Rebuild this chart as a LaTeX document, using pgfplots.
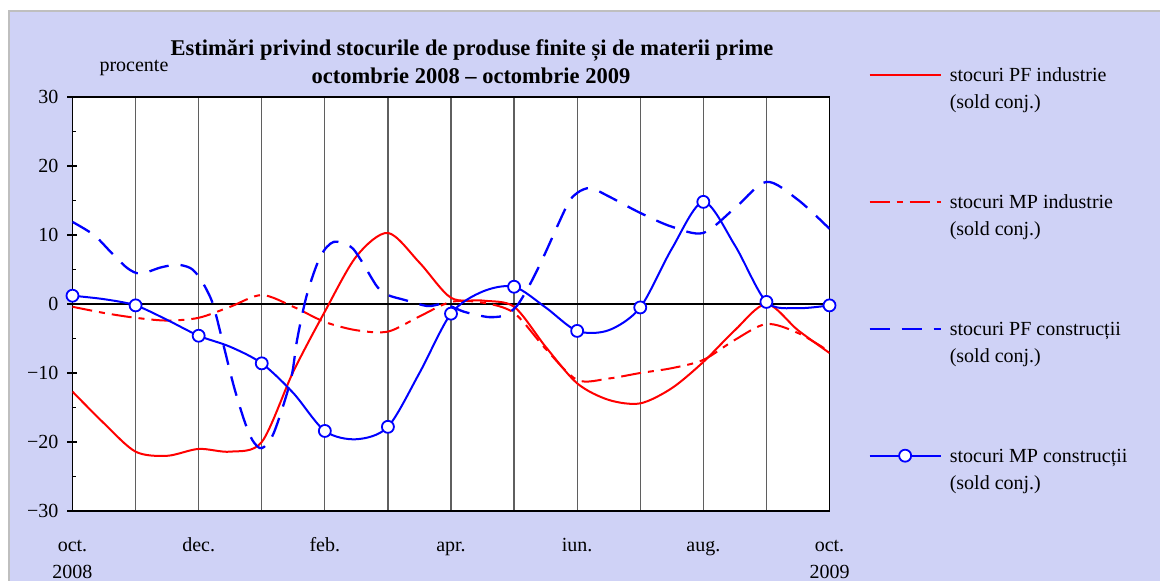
\documentclass[border=0pt]{standalone}
\usepackage{fontspec}
\setmainfont{Liberation Serif}
\usepackage{pgfplots}
\pgfplotsset{compat=1.18}
\definecolor{bgdots}{RGB}{207,210,246}
\definecolor{gridc}{RGB}{95,95,95}
\pgfplotsset{mpleg/.style={legend image code/.code={\draw[##1, mark repeat=2, mark phase=2] plot coordinates {(0pt,7pt) (35.5pt,7pt) (71pt,7pt)};}}}
\begin{document}
\begin{tikzpicture}
\path[use as bounding box] (0pt,0pt) rectangle (1160pt,581pt);
\fill[bgdots] (8pt,0pt) rectangle (1160pt,571pt);
\draw[gray!50, line width=2pt] (9pt,0pt) -- (9pt,570pt) -- (1160pt,570pt);
\node[font=\fontsize{22.5}{28}\selectfont\bfseries, anchor=base, inner sep=0pt] at (472pt,525pt) {Estimări privind stocurile de produse finite și de materii prime};
\node[font=\fontsize{22.5}{28}\selectfont\bfseries, anchor=base, inner sep=0pt] at (471pt,497pt) {octombrie 2008 – octombrie 2009};
\node[font=\fontsize{20}{24}\selectfont, anchor=base, inner sep=0pt] at (134pt,509pt) {procente};
\begin{axis}[
  at={(72.5pt,70pt)}, anchor=south west,
  width=757pt, height=414pt, scale only axis,
  xmin=0, xmax=12, ymin=-30, ymax=30,
  clip mode=individual,
  axis background/.style={fill=white},
  axis line style={black, line width=1.3pt},
  xtick={0,...,12},
  xticklabels={oct.,,dec.,,feb.,,apr.,,iun.,,aug.,,oct.},
  xmajorgrids,
  major grid style={gridc, line width=1.3pt},
  x tick style={draw=none},
  ytick={-30,-20,...,30},
  yticklabels={−30,−20,−10,0,10,20,30},
  minor ytick={-25,-15,...,25},
  y tick style={black, line width=1.2pt},
  tick align=center, major tick length=10pt, minor tick length=4pt,
  minor y tick style={xshift=2pt},
  tick pos=left,
  extra y ticks={0}, extra y tick labels={},
  extra y tick style={grid=major, major grid style={black, line width=1.2pt}},
  extra x ticks={0,12}, extra x tick labels={2008,2009},
  extra x tick style={grid=none, xticklabel style={yshift=-27pt}},
  ticklabel style={font=\fontsize{20}{24}\selectfont},
  xticklabel style={inner sep=0pt, text height=14pt, text depth=5pt, anchor=north, yshift=-21pt},
  yticklabel style={inner sep=0pt, text height=13.5pt, text depth=0pt, anchor=east, xshift=-9pt},
  legend style={at={(1.0515,1.0708)}, anchor=north west, draw=none, fill=none,
    inner sep=0pt, outer sep=0pt, row sep=8pt, column sep=8pt,
    font=\fontsize{20}{24}\selectfont,
    nodes={inner sep=0pt, text height=14pt, text depth=5pt, anchor=base west}},
  legend cell align=left,
  legend image code/.code={\draw[#1] (0pt,7pt) -- (71pt,7pt);},
]
\addplot[red, line width=2pt, smooth] coordinates {
(0,-12.7)(0.5,-17.3)(1,-21.4)(1.5,-22.0)(2,-21.0)(2.5,-21.4)(3,-20.0)(3.5,-9.8)(4,-1.1)(4.5,6.9)(5,10.3)(5.5,6.0)(6,0.9)(6.5,0.5)(7,-0.4)(7.5,-6.2)(8,-11.5)(8.5,-13.9)(9,-14.4)(9.5,-12.2)(10,-8.4)(10.5,-3.8)(11,0)(11.5,-3.8)(12,-7.1)};
\addlegendentry{stocuri PF industrie}
\addlegendimage{empty legend}
\addlegendentry[text depth=78pt]{(sold conj.)}
\addplot[red, line width=2pt, smooth, dash pattern=on 20pt off 7pt on 6pt off 7pt] coordinates {
(0,-0.4)(0.5,-1.3)(1,-2.0)(1.5,-2.4)(2,-2.0)(2.5,-0.4)(3,1.3)(3.5,-0.4)(4,-2.6)(4.5,-3.8)(5,-4.0)(5.5,-1.8)(6,0.3)(6.5,0.2)(7,-1.3)(7.5,-6.5)(8,-11.0)(8.5,-10.8)(9,-10.0)(9.5,-9.3)(10,-8.1)(10.5,-5.2)(11,-2.9)(11.5,-4.2)(12,-6.9)};
\addlegendentry{stocuri MP industrie}
\addlegendimage{empty legend}
\addlegendentry[text depth=78pt]{(sold conj.)}
\addplot[blue, line width=2.3pt, smooth, dash pattern=on 20pt off 12pt] coordinates {
(0,11.9)(0.34,10.0)(0.6,7.6)(0.87,5.2)(1.08,4.4)(1.4,5.3)(1.66,5.7)(1.87,5.2)(2,4.0)(2.13,2.0)(2.24,-0.4)(2.4,-6.2)(2.56,-12.0)(2.72,-16.8)(2.85,-19.7)(3,-20.9)(3.19,-18.7)(3.46,-11.0)(3.56,-5.2)(3.72,1.5)(3.93,6.9)(4.14,9.0)(4.41,8.3)(4.57,6.4)(4.83,2.5)(5,1.3)(5.26,0.6)(5.63,-0.3)(5.89,0)(6.2,-1.1)(6.52,-1.8)(6.68,-1.9)(6.86,-1.6)(7.05,-0.2)(7.26,3.0)(7.47,6.9)(7.84,14.3)(8,16.1)(8.21,16.8)(8.5,15.6)(9,13.2)(9.5,11.2)(10,10.3)(10.5,13.9)(11,17.7)(11.5,15.1)(12,10.9)};
\addlegendentry{stocuri PF construcții}
\addlegendimage{empty legend}
\addlegendentry[text depth=78pt]{(sold conj.)}
\addplot[blue, line width=2pt, smooth, mark=*, mark repeat=2, mark size=6pt,
  mark options={solid, fill=white, draw=blue, line width=1.8pt}, mpleg] coordinates {
(0,1.2)(0.5,0.7)(1,-0.2)(1.5,-2.3)(2,-4.6)(2.5,-6.2)(3,-8.6)(3.5,-12.9)(4,-18.4)(4.5,-19.6)(5,-17.8)(5.5,-10.0)(6,-1.4)(6.5,1.8)(7,2.5)(7.5,-0.5)(8,-3.9)(8.5,-3.8)(9,-0.5)(9.5,8.0)(10,14.8)(10.5,8.5)(11,0.3)(11.5,-0.6)(12,-0.2)};
\addlegendentry{stocuri MP construcții}
\addlegendimage{empty legend}
\addlegendentry{(sold conj.)}
\end{axis}
\end{tikzpicture}
\end{document}
